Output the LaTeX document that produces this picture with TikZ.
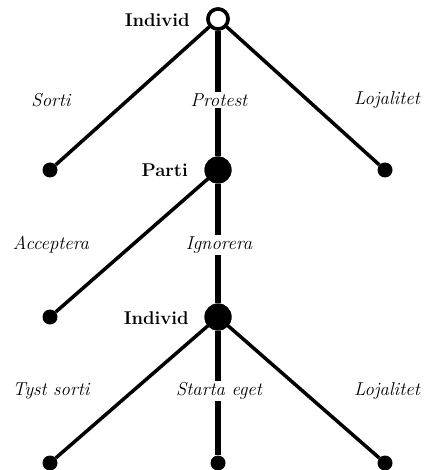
\documentclass[tikz,border=0pt]{standalone}
\usepackage{tikz}

\begin{document}
\begin{tikzpicture}[x=1pt,y=-1pt,
  opennode/.style={circle, draw, line width=3.5pt, fill=white, minimum size=20pt, inner sep=0pt},
  fullnode/.style={circle, fill=black, minimum size=27pt, inner sep=0pt},
  leafnode/.style={circle, fill=black, minimum size=15pt, inner sep=0pt},
  branch/.style={line width=3.5pt},
  stem/.style={line width=5.5pt},
  movelab/.style={font=\fontsize{18.7}{22}\selectfont\itshape},
  playerlab/.style={font=\fontsize{18.5}{22}\selectfont\bfseries, anchor=east, inner sep=0pt},
  cutlab/.style={movelab, fill=white, inner sep=2pt}]
\useasboundingbox (0,0) rectangle (424,470);
\node[opennode] (root) at (218,19) {};
\node[fullnode] (parti) at (218,170) {};
\node[fullnode] (ind) at (218,317) {};
\node[leafnode] (sorti) at (50,170) {};
\node[leafnode] (loj1) at (385,170) {};
\node[leafnode] (acc) at (50,317) {};
\node[leafnode] (tyst) at (50,463) {};
\node[leafnode] (eget) at (218,463) {};
\node[leafnode] (loj2) at (385,463) {};

\draw[branch] (root) -- (sorti);
\draw[branch] (root) -- (loj1);
\draw[stem] (root) -- (parti);
\draw[branch] (parti.center) -- (acc);
\draw[stem] (parti) -- (ind);
\draw[branch] (ind.center) -- (tyst);
\draw[branch] (ind.center) -- (loj2);
\draw[stem] (ind) -- (eget);
% nodes again on top of the lines
\node[opennode] at (root) {};
\node[fullnode] at (parti) {};
\node[fullnode] at (ind) {};

\node[playerlab] (lroot) at (190,20) {Individ};
\node[playerlab] (lparti) at (188,170) {Parti};
\node[playerlab] (lind) at (189,318) {Individ};

\node[movelab] (lsorti) at (51,100) {Sorti};
\node[cutlab] (lprot) at (219,100) {Protest};
\node[movelab] (lloj1) at (387,100) {Lojalitet};
\node[movelab] (lacc) at (51,245) {Acceptera};
\node[cutlab] (lign) at (219,245) {Ignorera};
\node[movelab] (ltyst) at (51,391) {Tyst sorti};
\node[cutlab] (leget) at (219,391) {Starta eget};
\node[movelab] (lloj2) at (387,391) {Lojalitet};
\end{tikzpicture}
\end{document}
